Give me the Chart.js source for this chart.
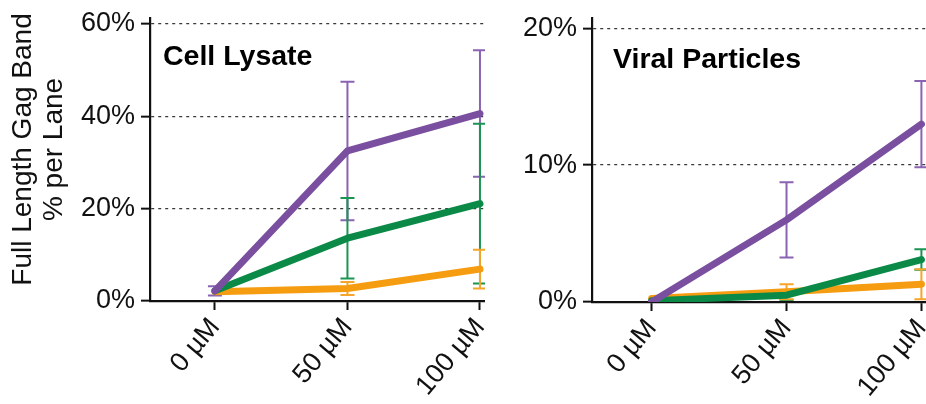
<!DOCTYPE html>
<html>
<head>
<meta charset="utf-8">
<script src="https://cdn.jsdelivr.net/npm/chart.js@4.4.1/dist/chart.umd.min.js"></script>
<style>
  html, body { margin: 0; padding: 0; background: #ffffff; }
  body { width: 926px; height: 404px; position: relative; overflow: hidden; }
  canvas { position: absolute; top: 0; }
  #lysate { left: 0; }
  #viral { left: 490px; }
</style>
</head>
<body>
<canvas id="lysate" width="485" height="404"></canvas>
<canvas id="viral" width="436" height="404"></canvas>
<script>
// Drug concentrations and their axis labels
const doses = [0, 50, 100];
const doseLabels = ['0 µM', '50 µM', '100 µM'];

// Cell lysate: full-length Gag band, % per lane (mean and SD)
const lysatePurple    = [2.2, 32.5, 40.6];
const lysatePurpleErr = [1.0, 15.0, 13.7];
const lysateGreen     = [2.2, 13.6, 21.1];
const lysateGreenErr  = [0.0, 8.7, 17.3];
const lysateOrange    = [2.0, 2.7, 6.9];
const lysateOrangeErr = [0.0, 1.4, 4.2];

// Viral particles: full-length Gag band, % per lane (mean and SD)
const viralPurple    = [0.0, 6.0, 13.0];
const viralPurpleErr = [0.0, 2.75, 3.15];
const viralGreen     = [0.1, 0.5, 3.1];
const viralGreenErr  = [0.0, 0.35, 0.75];
const viralOrange    = [0.25, 0.75, 1.3];
const viralOrangeErr = [0.0, 0.55, 1.1];

// Y-axis tick values for each panel
const lysateTicks = [0, 20, 40, 60];
const viralTicks = [0, 10, 20];

const FONT = "'Liberation Sans', Arial, Helvetica, sans-serif";
const PURPLE = '#7a4f9f', PURPLE_ERR = '#8a63b2';
const GREEN = '#0b8a47', GREEN_ERR = '#1a9552';
const ORANGE = '#f59c10', ORANGE_ERR = '#f5a52a';

function series(values, errs, color, errColor) {
  return {
    data: doses.map((d, i) => ({ x: d, y: values[i] })),
    errors: errs,
    errorColor: errColor,
    borderColor: color,
    backgroundColor: color,
    borderWidth: 7,
    borderCapStyle: 'round',
    borderJoinStyle: 'round',
    pointRadius: 0,
    tension: 0,
    fill: false
  };
}

// Vertical SD bars with caps, drawn behind the lines
const errorBars = {
  id: 'errorBars',
  beforeDatasetsDraw(chart) {
    const { ctx, scales: { x, y } } = chart;
    ctx.save();
    chart.data.datasets.forEach(ds => {
      ctx.strokeStyle = ds.errorColor;
      ctx.lineWidth = 2;
      ds.data.forEach((p, i) => {
        const e = ds.errors[i];
        if (!e) return;
        const px = x.getPixelForValue(p.x);
        const top = y.getPixelForValue(p.y + e);
        const bot = y.getPixelForValue(Math.max(p.y - e, 0));
        ctx.beginPath();
        ctx.moveTo(px, top); ctx.lineTo(px, bot);
        ctx.moveTo(px - 7, top); ctx.lineTo(px + 7, top);
        ctx.moveTo(px - 7, bot); ctx.lineTo(px + 7, bot);
        ctx.stroke();
      });
    });
    ctx.restore();
  }
};

// Bold panel name inside the plot area
const panelLabel = {
  id: 'panelLabel',
  afterDraw(chart, args, opts) {
    const { ctx, chartArea } = chart;
    ctx.save();
    ctx.font = 'bold 28.5px ' + FONT;
    ctx.fillStyle = '#000';
    ctx.textBaseline = 'alphabetic';
    ctx.textAlign = 'left';
    ctx.fillText(opts.text, chartArea.left + opts.dx, opts.baseline);
    ctx.restore();
  }
};

// Two-line rotated y-axis title
const yTitle = {
  id: 'yTitle',
  afterDraw(chart, args, opts) {
    if (!opts.lines) return;
    const { ctx } = chart;
    ctx.save();
    ctx.font = '28px ' + FONT;
    ctx.fillStyle = '#111';
    ctx.textAlign = 'center';
    ctx.textBaseline = 'alphabetic';
    opts.lines.forEach((line, i) => {
      ctx.save();
      ctx.translate(opts.baselines[i], opts.center);
      ctx.rotate(-Math.PI / 2);
      ctx.fillText(line, 0, 0);
      ctx.restore();
    });
    ctx.restore();
  }
};

function makeChart(id, sets, cfg) {
  return new Chart(document.getElementById(id), {
    type: 'line',
    data: { datasets: sets },
    plugins: [errorBars, panelLabel, yTitle],
    options: {
      responsive: false,
      animation: false,
      events: [],
      layout: { padding: { top: 18, left: 0, right: 0, bottom: 0 } },
      plugins: {
        legend: { display: false },
        tooltip: { enabled: false },
        panelLabel: cfg.label,
        yTitle: cfg.title || {}
      },
      scales: {
        x: {
          type: 'linear',
          min: cfg.xMin,
          max: cfg.xMax,
          afterBuildTicks(scale) { scale.ticks = doses.map(v => ({ value: v })); },
          afterFit(scale) {
            scale.height = cfg.xHeight;
            scale.paddingLeft = 0;
            scale.paddingRight = 0;
          },
          ticks: {
            autoSkip: false,
            minRotation: 50,
            maxRotation: 50,
            padding: 2,
            color: '#111',
            font: { family: FONT, size: 27 },
            callback: v => doseLabels[doses.indexOf(v)]
          },
          grid: {
            drawOnChartArea: false,
            drawTicks: true,
            tickLength: 9,
            tickWidth: 2,
            tickColor: '#111'
          },
          border: { display: true, color: '#111', width: 2.2 }
        },
        y: {
          type: 'linear',
          min: 0,
          max: cfg.yMax,
          afterBuildTicks(scale) { scale.ticks = cfg.yTicks.map(v => ({ value: v })); },
          afterFit(scale) {
            scale.width = cfg.yWidth;
            scale.paddingTop = 0;
            scale.paddingBottom = 0;
          },
          ticks: {
            padding: 6,
            color: '#111',
            font: { family: FONT, size: 27 },
            callback: v => v + '%'
          },
          grid: {
            drawOnChartArea: true,
            color: c => (c.tick && c.tick.value === 0) ? 'rgba(0,0,0,0)' : '#3a3a3a',
            lineWidth: 1.3,
            drawTicks: true,
            tickLength: 9,
            tickWidth: 2,
            tickColor: '#111',
            tickBorderDash: []
          },
          border: { display: true, color: '#111', width: 2.2, dash: [3, 4] }
        }
      }
    }
  });
}

makeChart('lysate', [
  series(lysatePurple, lysatePurpleErr, PURPLE, PURPLE_ERR),
  series(lysateGreen, lysateGreenErr, GREEN, GREEN_ERR),
  series(lysateOrange, lysateOrangeErr, ORANGE, ORANGE_ERR)
], {
  xMin: -24.5, xMax: 101.9, xHeight: 103,
  yMax: 61.3, yTicks: lysateTicks, yWidth: 150,
  label: { text: 'Cell Lysate', dx: 13, baseline: 65 },
  title: { lines: ['Full Length Gag Band', '% per Lane'], baselines: [31, 62], center: 149.5 }
});

makeChart('viral', [
  series(viralPurple, viralPurpleErr, PURPLE, PURPLE_ERR),
  series(viralGreen, viralGreenErr, GREEN, GREEN_ERR),
  series(viralOrange, viralOrangeErr, ORANGE, ORANGE_ERR)
], {
  xMin: -22.1, xMax: 101.7, xHeight: 102,
  yMax: 20.75, yTicks: viralTicks, yWidth: 102,
  label: { text: 'Viral Particles', dx: 21, baseline: 67.5 }
});
</script>
</body>
</html>
